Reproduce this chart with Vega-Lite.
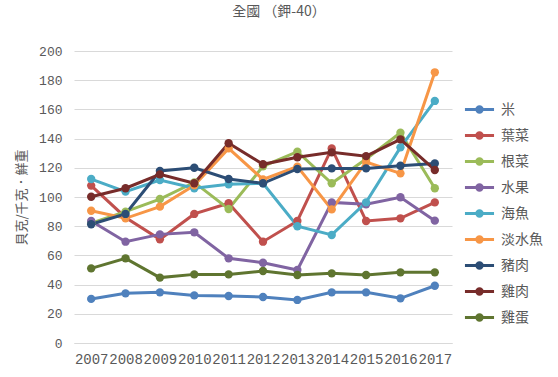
{
  "$schema": "https://vega.github.io/schema/vega-lite/v6.json",
  "width": 378,
  "height": 292,
  "autosize": "none",
  "padding": {"left": 74, "top": 51, "right": 106, "bottom": 34},
  "background": "white",
  "title": {"text": "全國 （鉀-40）", "fontSize": 14, "font": "Noto Sans CJK TC", "fontWeight": "normal", "color": "#595959", "offset": 26, "dx": 16},
  "config": {
    "view": {"stroke": null},
    "axis": {"labelColor": "#595959", "titleColor": "#595959", "gridColor": "#D9D9D9", "domainColor": "#D9D9D9", "ticks": false}
  },
  "data": {"values": [
    {"year": "2007", "s": "米", "v": 30.2}, {"year": "2008", "s": "米", "v": 34}, {"year": "2009", "s": "米", "v": 34.7}, {"year": "2010", "s": "米", "v": 32.6}, {"year": "2011", "s": "米", "v": 32.2}, {"year": "2012", "s": "米", "v": 31.5}, {"year": "2013", "s": "米", "v": 29.5}, {"year": "2014", "s": "米", "v": 34.7}, {"year": "2015", "s": "米", "v": 34.7}, {"year": "2016", "s": "米", "v": 30.6}, {"year": "2017", "s": "米", "v": 39.2},
    {"year": "2007", "s": "葉菜", "v": 107.8}, {"year": "2008", "s": "葉菜", "v": 86}, {"year": "2009", "s": "葉菜", "v": 71}, {"year": "2010", "s": "葉菜", "v": 88.4}, {"year": "2011", "s": "葉菜", "v": 95.7}, {"year": "2012", "s": "葉菜", "v": 69.4}, {"year": "2013", "s": "葉菜", "v": 83.6}, {"year": "2014", "s": "葉菜", "v": 133.3}, {"year": "2015", "s": "葉菜", "v": 83.6}, {"year": "2016", "s": "葉菜", "v": 85.4}, {"year": "2017", "s": "葉菜", "v": 96.3},
    {"year": "2007", "s": "根菜", "v": 82}, {"year": "2008", "s": "根菜", "v": 90}, {"year": "2009", "s": "根菜", "v": 98.6}, {"year": "2010", "s": "根菜", "v": 110}, {"year": "2011", "s": "根菜", "v": 91.8}, {"year": "2012", "s": "根菜", "v": 121}, {"year": "2013", "s": "根菜", "v": 131}, {"year": "2014", "s": "根菜", "v": 109.4}, {"year": "2015", "s": "根菜", "v": 126}, {"year": "2016", "s": "根菜", "v": 144}, {"year": "2017", "s": "根菜", "v": 106},
    {"year": "2007", "s": "水果", "v": 83.6}, {"year": "2008", "s": "水果", "v": 69.4}, {"year": "2009", "s": "水果", "v": 74.4}, {"year": "2010", "s": "水果", "v": 75.8}, {"year": "2011", "s": "水果", "v": 58}, {"year": "2012", "s": "水果", "v": 55}, {"year": "2013", "s": "水果", "v": 50}, {"year": "2014", "s": "水果", "v": 96.3}, {"year": "2015", "s": "水果", "v": 95}, {"year": "2016", "s": "水果", "v": 99.8}, {"year": "2017", "s": "水果", "v": 83.8},
    {"year": "2007", "s": "海魚", "v": 112.3}, {"year": "2008", "s": "海魚", "v": 103.7}, {"year": "2009", "s": "海魚", "v": 111.6}, {"year": "2010", "s": "海魚", "v": 106}, {"year": "2011", "s": "海魚", "v": 108.7}, {"year": "2012", "s": "海魚", "v": 109.4}, {"year": "2013", "s": "海魚", "v": 80}, {"year": "2014", "s": "海魚", "v": 74}, {"year": "2015", "s": "海魚", "v": 96.3}, {"year": "2016", "s": "海魚", "v": 134}, {"year": "2017", "s": "海魚", "v": 165.8},
    {"year": "2007", "s": "淡水魚", "v": 90.6}, {"year": "2008", "s": "淡水魚", "v": 85.4}, {"year": "2009", "s": "淡水魚", "v": 93.4}, {"year": "2010", "s": "淡水魚", "v": 108}, {"year": "2011", "s": "淡水魚", "v": 133.3}, {"year": "2012", "s": "淡水魚", "v": 112}, {"year": "2013", "s": "淡水魚", "v": 120.8}, {"year": "2014", "s": "淡水魚", "v": 91.5}, {"year": "2015", "s": "淡水魚", "v": 124}, {"year": "2016", "s": "淡水魚", "v": 116.2}, {"year": "2017", "s": "淡水魚", "v": 185.4},
    {"year": "2007", "s": "豬肉", "v": 81.3}, {"year": "2008", "s": "豬肉", "v": 88.4}, {"year": "2009", "s": "豬肉", "v": 117.8}, {"year": "2010", "s": "豬肉", "v": 120}, {"year": "2011", "s": "豬肉", "v": 112.3}, {"year": "2012", "s": "豬肉", "v": 109.4}, {"year": "2013", "s": "豬肉", "v": 119.2}, {"year": "2014", "s": "豬肉", "v": 119.6}, {"year": "2015", "s": "豬肉", "v": 119.6}, {"year": "2016", "s": "豬肉", "v": 121.4}, {"year": "2017", "s": "豬肉", "v": 123},
    {"year": "2007", "s": "雞肉", "v": 100.2}, {"year": "2008", "s": "雞肉", "v": 106}, {"year": "2009", "s": "雞肉", "v": 115.5}, {"year": "2010", "s": "雞肉", "v": 109.4}, {"year": "2011", "s": "雞肉", "v": 136.8}, {"year": "2012", "s": "雞肉", "v": 122.4}, {"year": "2013", "s": "雞肉", "v": 127.2}, {"year": "2014", "s": "雞肉", "v": 130.6}, {"year": "2015", "s": "雞肉", "v": 128}, {"year": "2016", "s": "雞肉", "v": 139.5}, {"year": "2017", "s": "雞肉", "v": 118.5},
    {"year": "2007", "s": "雞蛋", "v": 51.1}, {"year": "2008", "s": "雞蛋", "v": 58}, {"year": "2009", "s": "雞蛋", "v": 44.8}, {"year": "2010", "s": "雞蛋", "v": 47}, {"year": "2011", "s": "雞蛋", "v": 47}, {"year": "2012", "s": "雞蛋", "v": 49.3}, {"year": "2013", "s": "雞蛋", "v": 46.6}, {"year": "2014", "s": "雞蛋", "v": 47.7}, {"year": "2015", "s": "雞蛋", "v": 46.6}, {"year": "2016", "s": "雞蛋", "v": 48.4}, {"year": "2017", "s": "雞蛋", "v": 48.4}
  ]},
  "mark": {"type": "line", "strokeWidth": 3, "point": {"filled": true, "size": 70}},
  "encoding": {
    "x": {"field": "year", "type": "ordinal", "scale": {"type": "point", "padding": 0.5},
      "axis": {"title": null, "labelAngle": 0, "labelFont": "Liberation Mono", "labelFontSize": 14, "labelOverlap": false, "labelPadding": 9, "domain": true, "grid": false}},
    "y": {"field": "v", "type": "quantitative", "scale": {"domain": [0, 200]},
      "axis": {"title": "貝克/千克．鮮重", "titleFont": "Noto Sans CJK TC", "titleFontSize": 13, "titleFontWeight": "normal", "titlePadding": 10, "values": [0, 20, 40, 60, 80, 100, 120, 140, 160, 180, 200], "labelFont": "Liberation Mono", "labelFontSize": 13, "labelPadding": 12, "domain": false}},
    "color": {"field": "s", "type": "nominal",
      "scale": {"domain": ["米", "葉菜", "根菜", "水果", "海魚", "淡水魚", "豬肉", "雞肉", "雞蛋"],
        "range": ["#4F81BD", "#C0504D", "#9BBB59", "#8064A2", "#4BACC6", "#F79646", "#2C4D75", "#772C2A", "#5F7530"]},
      "legend": {"title": null, "orient": "none", "legendX": 394, "legendY": 47,
        "symbolType": "M-1.5,0L1.5,0M-0.28,0a0.28,0.28 0 1,0 0.56,0a0.28,0.28 0 1,0 -0.56,0",
        "symbolSize": 376, "symbolStrokeWidth": 3, "labelOffset": 10, "labelFont": "Noto Sans CJK TC", "labelFontSize": 14, "labelColor": "#595959", "rowPadding": 5}}
  }
}
